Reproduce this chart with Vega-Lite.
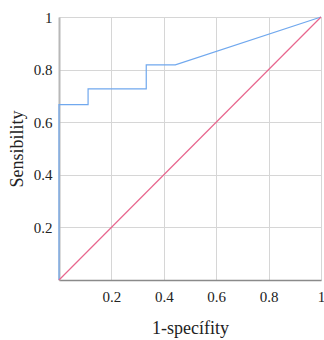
{
  "$schema": "https://vega.github.io/schema/vega-lite/v6.json",
  "width": 262,
  "height": 263,
  "autosize": {"type": "none"},
  "padding": {"left": 59, "top": 17, "right": 3, "bottom": 60},
  "background": "white",
  "config": {
    "view": {"stroke": null},
    "font": "Liberation Serif",
    "axis": {
      "labelFont": "Liberation Serif",
      "titleFont": "Liberation Serif",
      "labelFontSize": 15,
      "titleFontSize": 18,
      "labelColor": "#222",
      "titleColor": "#222",
      "titleFontWeight": "normal",
      "gridColor": "#d6d6d6",
      "gridWidth": 1,
      "ticks": false
    }
  },
  "data": {
    "values": [
      {"s": "roc", "o": 0, "fpr": 0, "tpr": 0},
      {"s": "roc", "o": 1, "fpr": 0, "tpr": 0.667},
      {"s": "roc", "o": 2, "fpr": 0.111, "tpr": 0.667},
      {"s": "roc", "o": 3, "fpr": 0.111, "tpr": 0.727},
      {"s": "roc", "o": 4, "fpr": 0.333, "tpr": 0.727},
      {"s": "roc", "o": 5, "fpr": 0.333, "tpr": 0.818},
      {"s": "roc", "o": 6, "fpr": 0.444, "tpr": 0.818},
      {"s": "roc", "o": 7, "fpr": 1, "tpr": 1},
      {"s": "ref", "o": 0, "fpr": 0, "tpr": 0},
      {"s": "ref", "o": 1, "fpr": 1, "tpr": 1}
    ]
  },
  "mark": {"type": "line", "strokeWidth": 1.2, "clip": false},
  "encoding": {
    "x": {
      "field": "fpr", "type": "quantitative",
      "scale": {"domain": [0, 1], "nice": false, "zero": false},
      "axis": {
        "title": "1-specífity",
        "values": [0, 0.2, 0.4, 0.6, 0.8, 1],
        "labelExpr": "datum.value == 0 ? '' : format(datum.value, '.1~f')",
        "domainColor": "#8a8a8a",
        "domainWidth": 1.5,
        "labelPadding": 9,
        "titlePadding": 15,
        "labelFlush": false
      }
    },
    "y": {
      "field": "tpr", "type": "quantitative",
      "scale": {"domain": [0, 1], "nice": false, "zero": false},
      "axis": {
        "title": "Sensibility",
        "values": [0, 0.2, 0.4, 0.6, 0.8, 1],
        "labelExpr": "datum.value == 0 ? '' : format(datum.value, '.1~f')",
        "domainColor": "#b8b8b8",
        "domainWidth": 2,
        "labelPadding": 7,
        "titlePadding": 7,
        "labelFlush": false
      }
    },
    "color": {
      "field": "s", "type": "nominal",
      "scale": {"domain": ["roc", "ref"], "range": ["#70a8ee", "#e8668e"]},
      "legend": null
    },
    "order": {"field": "o", "type": "quantitative"}
  }
}
